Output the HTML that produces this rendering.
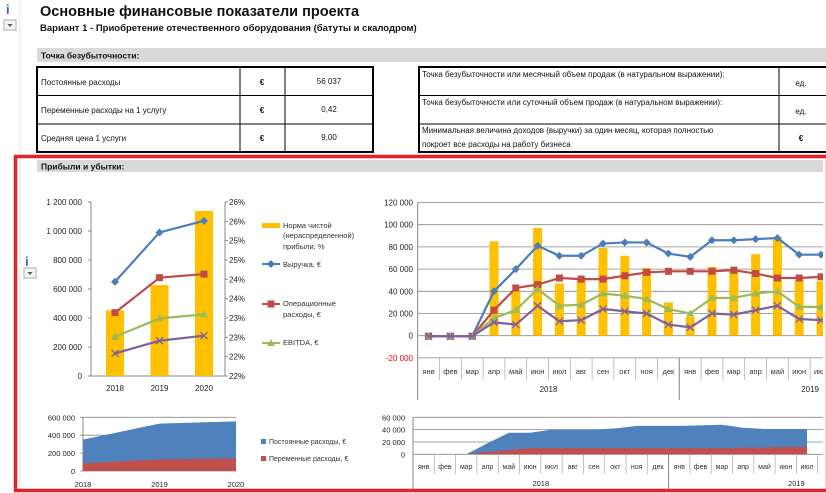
<!DOCTYPE html>
<html><head><meta charset="utf-8">
<style>
body{margin:0;background:#fff;font-family:"Liberation Sans","Noto Sans CJK SC",sans-serif;}
svg{display:block}
text{font-family:"Liberation Sans","Noto Sans CJK SC",sans-serif;}
</style></head>
<body>
<svg id="s" width="826" height="493" viewBox="0 0 826 493" xmlns="http://www.w3.org/2000/svg">
<rect width="826" height="493" fill="#fff"/>
<line x1="20" y1="0" x2="20" y2="493" stroke="#e4e4e4"/>
<g><text x="6" y="14" font-size="13" font-weight="bold" fill="#2a6cc0" font-family="Liberation Serif">i</text></g>
<g><rect x="4" y="20" width="12" height="10" fill="#f4f4f4" stroke="#aaa"/><path d="M7.5 24h5l-2.5 3z" fill="#555"/></g>
<text x="40" y="16" font-size="14.5" font-weight="bold" fill="#111">Основные финансовые показатели проекта</text>
<text x="40" y="31" font-size="9.5" font-weight="bold" fill="#111">Вариант 1 - Приобретение отечественного оборудования (батуты и скалодром)</text>
<rect x="37" y="48" width="789" height="14" fill="#d9d9d9"/>
<text x="41" y="58.5" font-size="8.5" font-weight="bold" fill="#111">Точка безубыточности:</text>
<g font-size="8" fill="#111">
<rect x="37" y="67" width="336" height="85" fill="none" stroke="#000" stroke-width="2"/>
<line x1="37" y1="95.5" x2="373" y2="95.5" stroke="#000"/><line x1="37" y1="124" x2="373" y2="124" stroke="#000"/>
<line x1="240" y1="67" x2="240" y2="152" stroke="#000"/><line x1="285" y1="67" x2="285" y2="152" stroke="#000"/>
<text x="41" y="85">Постоянные расходы</text><text x="262" y="85" text-anchor="middle" font-weight="bold">€</text><text x="329" y="84" text-anchor="middle">56 037</text>
<text x="41" y="113">Переменные расходы на 1 услугу</text><text x="262" y="113" text-anchor="middle" font-weight="bold">€</text><text x="329" y="112" text-anchor="middle">0,42</text>
<text x="41" y="141">Средняя цена 1 услуги</text><text x="262" y="141" text-anchor="middle" font-weight="bold">€</text><text x="329" y="140" text-anchor="middle">9,00</text>
</g>
<g font-size="8" fill="#111">
<rect x="419" y="67" width="420" height="85" fill="none" stroke="#000" stroke-width="2"/>
<line x1="419" y1="95.5" x2="826" y2="95.5" stroke="#000"/><line x1="419" y1="124" x2="826" y2="124" stroke="#000"/>
<line x1="779" y1="67" x2="779" y2="152" stroke="#000"/>
<text x="422" y="77">Точка безубыточности или месячный объем продаж (в натуральном выражении):</text><text x="801" y="86" text-anchor="middle">ед.</text>
<text x="422" y="105">Точка безубыточности или суточный объем продаж (в натуральном выражении):</text><text x="801" y="114" text-anchor="middle">ед.</text>
<text x="422" y="133">Минимальная величина доходов (выручки) за один месяц, которая полностью</text><text x="422" y="147">покроет все расходы на работу бизнеса</text><text x="801" y="141" text-anchor="middle" font-weight="bold">€</text>
</g>
<rect x="15.5" y="156.5" width="812" height="334" fill="none" stroke="#e8202a" stroke-width="3.5"/>
<rect x="37" y="160" width="786" height="12" fill="#d9d9d9"/>
<text x="41" y="169.5" font-size="8.5" font-weight="bold" fill="#111">Прибыли и убытки:</text>
<g><text x="25" y="266" font-size="13" font-weight="bold" fill="#2a6cc0" font-family="Liberation Serif">i</text></g>
<g><rect x="24" y="268" width="12" height="10" fill="#f4f4f4" stroke="#aaa"/><path d="M27.5 272h5l-2.5 3z" fill="#555"/></g>
<g id="c1"></g>
<g id="c2"></g>
<g id="c3"></g>
<g id="c4"></g>
</svg>
<script>
// ---- annual chart data
const years=["2018","2019","2020"];
const netMargin=[23.2,23.85,25.77];
const revenueY=[650000,990000,1070000];
const opexY=[437000,678000,703000];
const ebitdaY=[271000,397000,425000];
const netY=[156000,243000,278000];
const leftTicks=[0,200000,400000,600000,800000,1000000,1200000];
const rightTicks=[21.5,22,22.5,23,23.5,24,24.5,25,25.5,26];
const rightTickLabels=["22%","22%","23%","23%","24%","24%","25%","25%","26%","26%"];
// ---- monthly chart data
const months=["янв","фев","мар","апр","май","июн","июл","авг","сен","окт","ноя","дек","янв","фев","мар","апр","май","июн","июл"];
const marginM=[0,0,0,85000,41000,97000,47000,50000,79000,72000,61000,30000,17000,62000,60000,73500,88000,50000,49000];
const revenueM=[-500,-500,-500,40000,60000,81000,72000,72000,83000,84000,84000,74000,71000,86000,86000,87000,88000,73000,73000];
const opexM=[-500,-500,-500,23000,43000,46000,52000,51000,51000,54000,57000,58000,58000,58000,59000,56000,52000,52000,53000];
const ebitdaM=[-500,-500,-500,16000,23000,42000,27000,28000,38000,36000,33000,24000,20000,34000,34000,38000,40000,26000,26000];
const netM=[-500,-500,-500,12000,10000,27000,13000,14000,24000,22000,20000,10000,7500,20000,19000,23000,27000,15000,14000];
const monthTicks=[-20000,0,20000,40000,60000,80000,100000,120000];
// ---- cost charts
const fixedY=[265000,400000,415000];
const variableY=[85000,130000,140000];
const costTicksY=[0,200000,400000,600000];
const fixedM=[0,0,0,14000,28000,25000,30000,30000,30000,32000,36000,36000,36000,37000,38000,32000,30000,29000,29000];
const variableM=[0,0,0,4000,7000,10000,10000,10000,10000,10000,10000,10000,10000,10000,10000,11000,11000,12000,12000];
const costTicksM=[0,20000,40000,60000];

const NS="http://www.w3.org/2000/svg";
function mk(p,t,a){const e=document.createElementNS(NS,t);for(const k in a)e.setAttribute(k,a[k]);p.appendChild(e);return e;}
function fmt(v){return v.toString().replace(/\B(?=(\d{3})+(?!\d))/g," ");}
const C={blue:"#4a7ebb",red:"#be4b48",green:"#9bbb59",purple:"#7d60a0",yel:"#ffc000"};
function marker(g,type,x,y,col){
  let e;
  if(type==="d"){e=mk(g,"path",{d:`M${x} ${y-4}L${x+4} ${y}L${x} ${y+4}L${x-4} ${y}Z`,fill:col});}
  else if(type==="s"){e=mk(g,"rect",{x:x-3.5,y:y-3.5,width:7,height:7,fill:col});}
  else if(type==="t"){e=mk(g,"path",{d:`M${x} ${y-4}L${x+4} ${y+3}L${x-4} ${y+3}Z`,fill:col});}
  else {e=mk(g,"path",{d:`M${x-3.5} ${y-3.5}L${x+3.5} ${y+3.5}M${x+3.5} ${y-3.5}L${x-3.5} ${y+3.5}`,stroke:col,"stroke-width":1.3});}
  
  
}
function series(g,vals,xf,yf,col,type,name){
  const pl=mk(g,"polyline",{points:vals.map((v,i)=>xf(i)+","+yf(v)).join(" "),fill:"none",stroke:col,"stroke-width":2.2});
  
  
  vals.forEach((v,i)=>marker(g,type,xf(i),yf(v),col));
}
// ===== Chart 1
(function(){
  const g=document.getElementById("c1");
  const x0=91,x1=225,yb=376,yt=202;
  const yL=v=>yb-(v/1200000)*(yb-yt);
  const yR=v=>yb-(v-21.5)/4.5*(yb-yt);
  const xc=i=>115+i*44.5;
  leftTicks.forEach(v=>{const t=mk(g,"text",{x:82,y:yL(v)+3,"font-size":8,"text-anchor":"end",fill:"#222"});t.textContent=fmt(v);
    
    mk(g,"line",{x1:x0-3,y1:yL(v),x2:x0,y2:yL(v),stroke:"#888"});});
  rightTicks.forEach((v,i)=>{const t=mk(g,"text",{x:229,y:yR(v)+3,"font-size":8,fill:"#222"});t.textContent=rightTickLabels[i];
    
    mk(g,"line",{x1:x1,y1:yR(v),x2:x1+3,y2:yR(v),stroke:"#888"});});
  mk(g,"line",{x1:x0,y1:yt,x2:x0,y2:yb,stroke:"#888"});
  mk(g,"line",{x1:x1,y1:yt,x2:x1,y2:yb,stroke:"#888"});
  mk(g,"line",{x1:x0,y1:yb,x2:x1,y2:yb,stroke:"#888"});
  netMargin.forEach((v,i)=>{const r=mk(g,"rect",{x:xc(i)-9,y:yR(v),width:18,height:yb-yR(v),fill:C.yel});
    });
  years.forEach((y,i)=>{const t=mk(g,"text",{x:xc(i),y:391,"font-size":8,"text-anchor":"middle",fill:"#222"});t.textContent=y;
    });
  series(g,revenueY,xc,yL,C.blue,"d","line-revenue");
  series(g,opexY,xc,yL,C.red,"s","line-opex");
  series(g,ebitdaY,xc,yL,C.green,"t","line-ebitda");
  series(g,netY,xc,yL,C.purple,"x","line-net-profit");
  // legend
  const lg=mk(g,"g",{});
  mk(lg,"rect",{x:262,y:223,width:18,height:5,fill:C.yel});
  [["Норма чистой",228],["(нераспределенной)",238],["прибыли, %",249]].forEach(a=>{const t=mk(lg,"text",{x:283,y:a[1],"font-size":7.5,fill:"#333"});t.textContent=a[0];});
  mk(lg,"line",{x1:262,y1:264,x2:280,y2:264,stroke:C.blue,"stroke-width":2});marker(lg,"d",271,264,C.blue);
  let t=mk(lg,"text",{x:283,y:267,"font-size":7.5,fill:"#333"});t.textContent="Выручка, €";
  mk(lg,"line",{x1:262,y1:304,x2:280,y2:304,stroke:C.red,"stroke-width":2});marker(lg,"s",271,304,C.red);
  t=mk(lg,"text",{x:283,y:306,"font-size":7.5,fill:"#333"});t.textContent="Операционные";
  t=mk(lg,"text",{x:283,y:317,"font-size":7.5,fill:"#333"});t.textContent="расходы, €";
  mk(lg,"line",{x1:262,y1:343,x2:280,y2:343,stroke:C.green,"stroke-width":2});marker(lg,"t",271,343,C.green);
  t=mk(lg,"text",{x:283,y:345,"font-size":7.5,fill:"#333"});t.textContent="EBITDA,  €";
})();
// ===== Chart 2
(function(){
  const g=document.getElementById("c2");
  const clip=mk(g,"clipPath",{id:"cl2"});mk(clip,"rect",{x:360,y:180,width:463,height:230});
  const gg=mk(g,"g",{"clip-path":"url(#cl2)"});
  const x0=417.7,cw=21.8,y0=335.7,k=22.2/20000;
  const y=v=>y0-v*k, xc=i=>x0+cw*(i+0.5);
  monthTicks.forEach(v=>{mk(gg,"line",{x1:x0,y1:y(v),x2:826,y2:y(v),stroke:"#888","stroke-width":0.8});
    const t=mk(g,"text",{x:413,y:y(v)+3,"font-size":8,"text-anchor":"end",fill:v<0?"#e00":"#222"});t.textContent=fmt(v).replace("-","-");
    });
  mk(gg,"line",{x1:x0,y1:y(120000),x2:x0,y2:400,stroke:"#888"});
  months.forEach((m,i)=>{mk(gg,"line",{x1:x0+cw*(i+1),y1:y(-20000),x2:x0+cw*(i+1),y2:380,stroke:"#aaa","stroke-width":0.7});
    const t=mk(gg,"text",{x:xc(i),y:374,"font-size":7.5,"text-anchor":"middle",fill:"#333"});t.textContent=m;
    });
  mk(gg,"line",{x1:x0+cw*12,y1:y(-20000),x2:x0+cw*12,y2:400,stroke:"#888"});
  [["2018",x0+cw*6],["2019",x0+cw*18]].forEach(a=>{const t=mk(gg,"text",{x:a[1],y:392,"font-size":8,"text-anchor":"middle",fill:"#222"});t.textContent=a[0];});
  marginM.forEach((v,i)=>{if(v>0){const r=mk(gg,"rect",{x:xc(i)-4.5,y:y(v),width:9,height:y(0)-y(v),fill:C.yel});
    }});
  series(gg,revenueM,xc,y,C.blue,"d","line-revenue");
  series(gg,opexM,xc,y,C.red,"s","line-opex");
  series(gg,ebitdaM,xc,y,C.green,"t","line-ebitda");
  series(gg,netM,xc,y,C.purple,"x","line-net-profit");
})();
// ===== Chart 3
(function(){
  const g=document.getElementById("c3");
  const yb=471,k=53.7/600000;const y=v=>yb-v*k;const xc=i=>83+i*76.5;
  costTicksY.forEach(v=>{mk(g,"line",{x1:80,y1:y(v),x2:236,y2:y(v),stroke:"#888","stroke-width":0.8});
    const t=mk(g,"text",{x:75,y:y(v)+3,"font-size":7.5,"text-anchor":"end",fill:"#222"});t.textContent=fmt(v);
    });
  mk(g,"line",{x1:83,y1:y(600000),x2:83,y2:yb,stroke:"#888"});
  const tot=fixedY.map((v,i)=>v+variableY[i]);
  let p="M"+xc(0)+" "+yb+" "+tot.map((v,i)=>"L"+xc(i)+" "+y(v)).join(" ")+" L"+xc(2)+" "+yb+"Z";
  let e=mk(g,"path",{d:p,fill:"#4f81bd"});
  p="M"+xc(0)+" "+yb+" "+variableY.map((v,i)=>"L"+xc(i)+" "+y(v)).join(" ")+" L"+xc(2)+" "+yb+"Z";
  e=mk(g,"path",{d:p,fill:"#c0504d"});
  years.forEach((yr,i)=>{const t=mk(g,"text",{x:xc(i),y:487,"font-size":7.5,"text-anchor":"middle",fill:"#222"});t.textContent=yr;});
  const lg=mk(g,"g",{});
  mk(lg,"rect",{x:261,y:439,width:5,height:5,fill:"#4f81bd"});
  let t=mk(lg,"text",{x:269,y:444,"font-size":7,fill:"#333"});t.textContent="Постоянные расходы, €";
  mk(lg,"rect",{x:261,y:456,width:5,height:5,fill:"#c0504d"});
  t=mk(lg,"text",{x:269,y:461,"font-size":7,fill:"#333"});t.textContent="Переменные  расходы, €";
})();
// ===== Chart 4
(function(){
  const g=document.getElementById("c4");
  const clip=mk(g,"clipPath",{id:"cl4"});mk(clip,"rect",{x:380,y:405,width:443,height:84});
  const gg=mk(g,"g",{"clip-path":"url(#cl4)"});
  const x0=413,cw=21.3,yb=454.3,k=37/60000;const y=v=>yb-v*k, xc=i=>x0+cw*(i+0.5);
  costTicksM.forEach(v=>{mk(gg,"line",{x1:x0,y1:y(v),x2:826,y2:y(v),stroke:"#888","stroke-width":0.8});
    const t=mk(g,"text",{x:405,y:y(v)+3,"font-size":7.5,"text-anchor":"end",fill:"#222"});t.textContent=fmt(v);
    });
  const tot=fixedM.map((v,i)=>v+variableM[i]);
  let p="M"+xc(0)+" "+yb+" "+tot.map((v,i)=>"L"+xc(i)+" "+y(v)).join(" ")+" L"+xc(tot.length-1)+" "+yb+"Z";
  let e=mk(gg,"path",{d:p,fill:"#4f81bd"});
  p="M"+xc(0)+" "+yb+" "+variableM.map((v,i)=>"L"+xc(i)+" "+y(v)).join(" ")+" L"+xc(variableM.length-1)+" "+yb+"Z";
  e=mk(gg,"path",{d:p,fill:"#c0504d"});
  mk(gg,"line",{x1:x0,y1:y(60000),x2:x0,y2:490,stroke:"#888"});
  months.forEach((m,i)=>{mk(gg,"line",{x1:x0+cw*(i+1),y1:yb,x2:x0+cw*(i+1),y2:474,stroke:"#aaa","stroke-width":0.7});
    const t=mk(gg,"text",{x:xc(i),y:469,"font-size":7,"text-anchor":"middle",fill:"#333"});t.textContent=m;});
  mk(gg,"line",{x1:x0+cw*12,y1:yb,x2:x0+cw*12,y2:490,stroke:"#888"});
  [["2018",x0+cw*6],["2019",x0+cw*18]].forEach(a=>{const t=mk(gg,"text",{x:a[1],y:486,"font-size":7.5,"text-anchor":"middle",fill:"#222"});t.textContent=a[0];});
})();
</script>
</body></html>
